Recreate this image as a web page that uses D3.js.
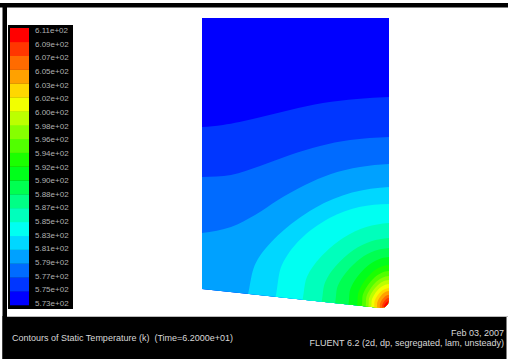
<!DOCTYPE html>
<html lang="en">
<head>
<meta charset="UTF-8">
<title>Contours of Static Temperature</title>
<script src="https://cdn.jsdelivr.net/npm/d3@7"></script>
<style>
    body { margin: 0; background: #fff; }
    svg text { font-family: "Liberation Sans", Arial, sans-serif; }
</style>
</head>
<body>
<svg width="508" height="364"></svg>
<script>
    // contour levels (K / 100), bottom to top of the colour bar
    const levels = [5.73, 5.75, 5.77, 5.79, 5.81, 5.83, 5.85, 5.87, 5.88, 5.90, 5.92,
                    5.94, 5.96, 5.98, 6.00, 6.02, 6.03, 6.05, 6.07, 6.09, 6.11];

    // domain outline (mm)
    const wallX = [0, 0, 18.7, 18.7, 18.59, 18.3, 17.9, 0];
    const wallY = [2.0, 29.1, 29.1, 0.9, 0.5, 0.21, 0.1, 2.0];

    // isotherms for levels[1] .. levels[19] (mm)
    const isoX = [
        [0, 2.1, 5.5, 8.8, 12.1, 15.5, 18.7],
        [0, 2.9, 5.8, 8.8, 11.8, 14.8, 18.7],
        [0, 2.9, 5.3, 7.6, 10.3, 12.9, 15.8, 18.7],
        [3.9, 5.38, 7.6, 11.3, 15.0, 18.7],
        [6.8, 7.99, 9.77, 12.75, 15.72, 18.7],
        [9.6, 10.51, 11.87, 14.15, 16.42, 18.7],
        [11.6, 12.31, 13.38, 15.15, 16.93, 18.7],
        [13.0, 13.57, 14.43, 15.85, 17.28, 18.7],
        [14.4, 14.83, 15.48, 16.55, 17.63, 18.7],
        [15.3, 15.64, 16.15, 17.0, 17.85, 18.7],
        [15.8, 16.09, 16.53, 17.25, 17.98, 18.7],
        [16.2, 16.45, 16.83, 17.45, 18.08, 18.7],
        [16.5, 16.72, 17.05, 17.6, 18.15, 18.7],
        [16.8, 16.99, 17.28, 17.75, 18.23, 18.7],
        [17.1, 17.26, 17.5, 17.9, 18.3, 18.7],
        [17.4, 17.53, 17.73, 18.05, 18.38, 18.7],
        [17.7, 17.8, 17.95, 18.2, 18.45, 18.7],
        [17.95, 18.03, 18.14, 18.33, 18.51, 18.7],
        [18.15, 18.2, 18.29, 18.43, 18.56, 18.7]
    ];
    const isoY = [
        [18.2, 18.4, 19.1, 19.9, 20.6, 21.0, 21.2],
        [13.2, 13.4, 14.3, 15.4, 16.3, 16.9, 17.2],
        [7.6, 8.2, 9.4, 10.9, 12.4, 13.5, 14.2, 14.5],
        [0, 4.61, 7.37, 10.11, 11.64, 12.2],
        [0, 4.4, 6.9, 9.1, 10.2, 10.5],
        [0, 3.25, 5.19, 7.13, 8.2, 8.6],
        [0, 2.68, 4.29, 5.89, 6.77, 7.1],
        [0, 2.31, 3.68, 5.06, 5.82, 6.1],
        [0, 1.97, 3.14, 4.31, 4.96, 5.2],
        [0, 1.66, 2.66, 3.65, 4.2, 4.4],
        [0, 1.44, 2.29, 3.15, 3.63, 3.8],
        [0, 1.25, 1.99, 2.74, 3.15, 3.3],
        [0, 1.1, 1.75, 2.4, 2.77, 2.9],
        [0, 0.95, 1.51, 2.07, 2.38, 2.5],
        [0, 0.79, 1.27, 1.74, 2.0, 2.1],
        [0, 0.68, 1.09, 1.49, 1.72, 1.8],
        [0, 0.53, 0.85, 1.16, 1.34, 1.4],
        [0, 0.42, 0.66, 0.91, 1.05, 1.1],
        [0, 0.3, 0.48, 0.66, 0.76, 0.8]
    ];

    const title = "Contours of Static Temperature (k)  (Time=6.2000e+01)";
    const dateText = "Feb 03, 2007";
    const solverText = "FLUENT 6.2 (2d, dp, segregated, lam, unsteady)";

    const svg = d3.select("svg");
    const W = 508, H = 364;

    // frame
    svg.append("rect").attr("x", 0).attr("y", 0).attr("width", W).attr("height", H).attr("fill", "#fff");
    svg.append("rect").attr("x", 0).attr("y", 3).attr("width", W).attr("height", 4.5).attr("fill", "#000");
    svg.append("rect").attr("x", 2.5).attr("y", 3).attr("width", 4.5).attr("height", 356).attr("fill", "#000");
    svg.append("rect").attr("x", 2.5).attr("y", 316).attr("width", W - 4).attr("height", 43).attr("fill", "#000");
    svg.append("line").attr("x1", 7).attr("x2", W).attr("y1", 316.5).attr("y2", 316.5)
        .attr("stroke", "#bbb").attr("stroke-width", 1);

    // colour map: blue -> cyan -> green -> yellow -> red
    const nBands = levels.length - 1;
    const hue = d3.scaleLinear().domain([0, nBands - 1]).range([240, 0]);
    const bandColor = k => d3.hsl(hue(k), 1, 0.5).formatHex();

    // domain scales
    const x = d3.scaleLinear().domain([0, 18.7]).range([202, 389]);
    const y = d3.scaleLinear().domain([0, 29.1]).range([309, 18]);

    const wall = wallX.map((d, i) => [d, wallY[i]]);
    const wallLine = d3.line().x(d => x(d[0])).y(d => y(d[1]));

    svg.append("clipPath").attr("id", "dom")
        .append("path").attr("d", wallLine(wall) + "Z");

    const g = svg.append("g").attr("clip-path", "url(#dom)");
    g.append("path").attr("d", wallLine(wall) + "Z").attr("fill", bandColor(0));

    const isoLine = d3.line().x(d => x(d[0])).y(d => y(d[1])).curve(d3.curveCatmullRom.alpha(0.5));

    isoX.forEach((xs, i) => {
        const pts = xs.map((d, j) => [d, isoY[i][j]]);
        const first = pts[0], last = pts[pts.length - 1];
        const ring = [[first[0] - 3, first[1]], ...pts, [last[0] + 3, last[1]],
                      [last[0] + 3, -3], [first[0] - 3, -3]];
        g.append("path")
            .attr("d", isoLine(ring) + "Z")
            .attr("fill", bandColor(i + 1));
    });

    // colour bar
    const bar = svg.append("g");
    bar.append("rect").attr("x", 8).attr("y", 25).attr("width", 65).attr("height", 284).attr("fill", "#000");
    const barY = d3.scaleLinear().domain([0, nBands]).range([305, 28]);
    bar.selectAll("rect.sw")
        .data(d3.range(nBands))
        .enter().append("rect")
        .attr("class", "sw")
        .attr("x", 10)
        .attr("width", 19)
        .attr("y", k => barY(k + 1))
        .attr("height", k => barY(k) - barY(k + 1) + 0.3)
        .attr("fill", k => bandColor(k));

    const labY = d3.scaleLinear().domain([0, nBands]).range([303, 30]);
    bar.selectAll("text")
        .data(levels)
        .enter().append("text")
        .attr("x", 35)
        .attr("y", (d, i) => labY(i) + 3)
        .attr("font-size", 8)
        .attr("fill", "#b0b0b0")
        .text(d => d.toFixed(2) + "e+02");

    // footer
    svg.append("text").attr("x", 12).attr("y", 341).attr("font-size", 9).attr("fill", "#d8d8d8")
        .attr("xml:space", "preserve").style("white-space", "pre").text(title);
    svg.append("text").attr("x", 504).attr("y", 336).attr("font-size", 9).attr("fill", "#d8d8d8")
        .attr("text-anchor", "end").text(dateText);
    svg.append("text").attr("x", 504).attr("y", 346).attr("font-size", 9).attr("fill", "#d8d8d8")
        .attr("text-anchor", "end").text(solverText);
</script>
</body>
</html>
